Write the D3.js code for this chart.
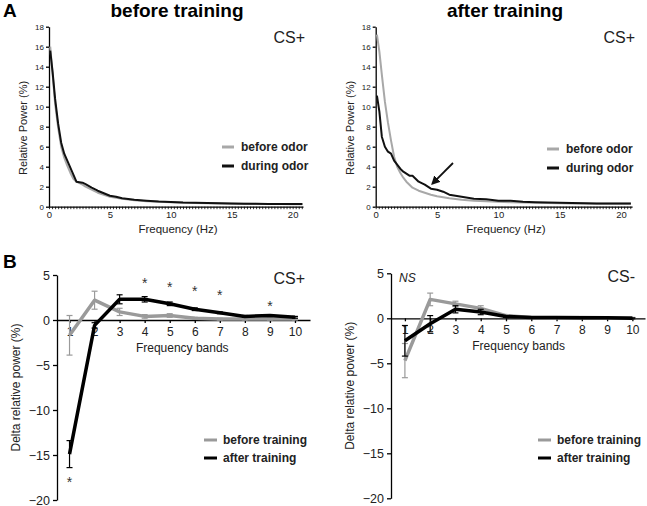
<!DOCTYPE html>
<html>
<head>
<meta charset="utf-8">
<script src="https://cdn.jsdelivr.net/npm/d3@7"></script>
<style>
  body { margin: 0; background: #fff; }
  svg { display: block; font-family: Arial, "Liberation Sans", Helvetica, sans-serif; }
  .axis path, .axis line { stroke: #000; stroke-width: 1.3; }
  .axis text { fill: #222; }
</style>
</head>
<body>
<svg width="647" height="506"></svg>
<script>
// ---- data: panel A (power spectra) ----
const freqA = [0.1, 0.3, 0.5, 0.75, 1, 1.25, 1.5, 1.75, 2, 2.25, 2.5, 2.75, 3, 3.5, 4, 4.5, 5, 5.5, 6, 7, 8, 9, 10, 11, 12, 13, 14, 15, 16, 17, 18, 19, 20, 20.8]
const beforeTrainBeforeOdor = [16.0, 13.2, 10.3, 7.9, 6.0, 4.9, 4.1, 3.4, 2.8, 2.5, 2.35, 2.2, 2.0, 1.7, 1.4, 1.2, 1.0, 0.9, 0.8, 0.65, 0.55, 0.5, 0.45, 0.4, 0.38, 0.35, 0.33, 0.3, 0.3, 0.28, 0.27, 0.26, 0.25, 0.25]
const beforeTrainDuringOdor = [15.6, 13.4, 10.8, 8.3, 6.4, 5.3, 4.6, 3.9, 3.2, 2.5, 2.45, 2.4, 2.25, 1.9, 1.6, 1.35, 1.1, 1.0, 0.85, 0.7, 0.6, 0.52, 0.47, 0.42, 0.4, 0.37, 0.35, 0.32, 0.3, 0.3, 0.28, 0.27, 0.26, 0.26]
const afterTrainBeforeOdor = [17.2, 15.5, 13.2, 10.5, 8.4, 6.6, 5.0, 4.0, 3.4, 2.9, 2.5, 2.2, 1.9, 1.6, 1.4, 1.2, 1.05, 0.95, 0.85, 0.7, 0.6, 0.55, 0.5, 0.45, 0.42, 0.4, 0.38, 0.35, 0.33, 0.32, 0.3, 0.3, 0.3, 0.3]
const afterTrainDuringOdor = [11.1, 9.5, 7.0, 6.0, 5.5, 5.3, 4.6, 4.2, 3.8, 3.5, 3.3, 3.1, 3.1, 2.5, 2.2, 1.8, 1.7, 1.5, 1.2, 1.0, 0.8, 0.75, 0.6, 0.6, 0.5, 0.45, 0.42, 0.4, 0.38, 0.35, 0.33, 0.32, 0.32, 0.32]
const ticksAy = [0, 2, 4, 6, 8, 10, 12, 14, 16, 18]
const ticksAx = [0, 5, 10, 15, 20]

// ---- data: panel B (delta relative power per band) ----
const bands = [1, 2, 3, 4, 5, 6, 7, 8, 9, 10]
const csPlusBefore = [-1.7, 2.2, 0.9, 0.4, 0.5, 0.2, 0.1, 0.1, 0.1, 0.1]
const csPlusBeforeErr = [2.2, 1.0, 0.4, 0.2, 0.2, 0.1, 0.1, 0.1, 0.1, 0.1]
const csPlusAfter = [-14.9, -0.6, 2.3, 2.3, 1.8, 1.2, 0.8, 0.4, 0.5, 0.3]
const csPlusAfterErr = [1.5, 0.3, 0.5, 0.3, 0.2, 0.15, 0.1, 0.1, 0.1, 0.1]
const csMinusBefore = [-4.7, 2.1, 1.6, 1.1, 0.3, 0.1, 0.05, 0.1, 0.05, 0.05]
const csMinusBeforeErr = [1.9, 0.7, 0.3, 0.3, 0.1, 0.05, 0.05, 0.05, 0.05, 0.05]
const csMinusAfter = [-2.5, -0.6, 1.0, 0.7, 0.2, 0.1, 0.1, 0.05, 0.05, 0.0]
const csMinusAfterErr = [1.7, 0.9, 0.4, 0.3, 0.1, 0.05, 0.05, 0.05, 0.05, 0.05]
const starBands = [1, 4, 5, 6, 7, 9]
const starValues = [-17.9, 4.2, 3.8, 3.3, 2.9, 1.7]
const ticksBy = [5, 0, -5, -10, -15, -20]

const svg = d3.select('svg')
const grayA = '#a8a8a8'
const grayB = '#9a9a9a'

function spectrumPanel (opt) {
  const x = d3.scaleLinear().domain(opt.xDomain).range(opt.xRange)
  const y = d3.scaleLinear().domain([0, 18]).range([206.7, 26.7])
  const g = svg.append('g')

  // y axis
  g.append('g').attr('class', 'axis')
    .attr('transform', 'translate(' + opt.xRange[0] + ',0)')
    .call(d3.axisLeft(y).tickValues(ticksAy).tickSize(3).tickSizeOuter(0).tickPadding(2))
    .call(a => a.selectAll('text').style('font-size', '8px'))
  // x axis: minor ticks every 0.25 Hz
  const minor = d3.range(0, opt.xDomain[1], 0.25)
  g.append('g').attr('class', 'axis')
    .attr('transform', 'translate(0,' + y(0) + ')')
    .call(d3.axisBottom(x).tickValues(minor).tickSize(2.5).tickSizeOuter(0).tickFormat(''))
    .call(a => a.selectAll('line').style('stroke-width', 0.8))
  g.append('g').attr('class', 'axis')
    .attr('transform', 'translate(0,' + y(0) + ')')
    .call(d3.axisBottom(x).tickValues(ticksAx).tickSize(0).tickPadding(5))
    .call(a => a.select('.domain').remove())
    .call(a => a.selectAll('text').style('font-size', '9.5px'))

  const line = d3.line().x((d, i) => x(freqA[i])).y(d => y(d))
  g.append('path').datum(opt.before).attr('d', line)
    .attr('fill', 'none').attr('stroke', grayA).attr('stroke-width', 2).attr('stroke-linejoin', 'round')
  g.append('path').datum(opt.during).attr('d', line)
    .attr('fill', 'none').attr('stroke', '#111').attr('stroke-width', 2).attr('stroke-linejoin', 'round')

  // labels
  g.append('text').attr('x', (opt.xRange[0] + opt.xRange[1]) / 2 + 2).attr('y', 233)
    .attr('text-anchor', 'middle').style('font-size', '11.5px').attr('fill', '#222').text('Frequency (Hz)')
  g.append('text').attr('transform', 'translate(' + (opt.xRange[0] - 22) + ',128) rotate(-90)')
    .attr('text-anchor', 'middle').style('font-size', '11px').attr('fill', '#222').text('Relative Power (%)')
  g.append('text').attr('x', opt.titleX).attr('y', 17).attr('text-anchor', 'middle')
    .style('font-size', '19px').style('font-weight', 'bold').text(opt.title)
  g.append('text').attr('x', opt.csX).attr('y', 43).attr('text-anchor', 'end')
    .style('font-size', '16px').attr('fill', '#222').text('CS+')

  // legend
  const legend = [['before odor', grayA], ['during odor', '#111']]
  legend.forEach((l, i) => {
    const ly = opt.legY + i * 19
    g.append('line').attr('x1', opt.legX).attr('x2', opt.legX + 12).attr('y1', ly).attr('y2', ly)
      .attr('stroke', l[1]).attr('stroke-width', 3)
    g.append('text').attr('x', opt.legX + 19).attr('y', ly + 4)
      .style('font-size', '12px').style('font-weight', 'bold').attr('fill', '#222').text(l[0])
  })
  return { x, y, g }
}

spectrumPanel({
  xDomain: [0, 20.85], xRange: [49, 303],
  before: beforeTrainBeforeOdor, during: beforeTrainDuringOdor,
  title: 'before training', titleX: 177, csX: 305, legX: 222, legY: 147
})
const right = spectrumPanel({
  xDomain: [0, 20.9], xRange: [375.7, 632.1],
  before: afterTrainBeforeOdor, during: afterTrainDuringOdor,
  title: 'after training', titleX: 505, csX: 635, legX: 547, legY: 149
})

// arrow on the after-training spectrum
svg.append('defs').append('marker').attr('id', 'arrow')
  .attr('viewBox', '0 0 10 10').attr('refX', 8).attr('refY', 5)
  .attr('markerWidth', 5).attr('markerHeight', 5).attr('orient', 'auto')
  .append('path').attr('d', 'M0,0 L10,5 L0,10 Z').attr('fill', '#111')
right.g.append('line')
  .attr('x1', right.x(6.3)).attr('y1', right.y(4.37))
  .attr('x2', right.x(4.62)).attr('y2', right.y(2.3))
  .attr('stroke', '#111').attr('stroke-width', 1.8).attr('marker-end', 'url(#arrow)')

function bandPanel (opt) {
  const x = d3.scaleLinear().domain(opt.xDomain).range(opt.xRange)
  const y = d3.scaleLinear().domain([-20, 5]).range(opt.yRange)
  const g = svg.append('g')

  g.append('g').attr('class', 'axis')
    .attr('transform', 'translate(' + opt.xRange[0] + ',0)')
    .call(d3.axisLeft(y).tickValues(ticksBy).tickSize(4).tickSizeOuter(0).tickPadding(3))
    .call(a => a.selectAll('text').style('font-size', '12.5px'))
  g.append('g').attr('class', 'axis')
    .attr('transform', 'translate(0,' + y(0) + ')')
    .call(d3.axisBottom(x).tickValues(bands).tickSize(3).tickSizeOuter(0).tickPadding(4))
    .call(a => a.selectAll('text').style('font-size', '12px'))

  const line = d3.line().x((d, i) => x(bands[i])).y(d => y(d))
  function series (vals, errs, color) {
    const eb = g.append('g').attr('stroke', color).attr('stroke-width', 1.2)
    vals.forEach((v, i) => {
      const cx = x(bands[i])
      eb.append('line').attr('x1', cx).attr('x2', cx).attr('y1', y(v - errs[i])).attr('y2', y(v + errs[i]))
      eb.append('line').attr('x1', cx - 3).attr('x2', cx + 3).attr('y1', y(v - errs[i])).attr('y2', y(v - errs[i]))
      eb.append('line').attr('x1', cx - 3).attr('x2', cx + 3).attr('y1', y(v + errs[i])).attr('y2', y(v + errs[i]))
    })
    g.append('path').datum(vals).attr('d', line)
      .attr('fill', 'none').attr('stroke', color).attr('stroke-width', 3.5).attr('stroke-linejoin', 'round')
  }
  series(opt.before, opt.beforeErr, grayB)
  series(opt.after, opt.afterErr, '#000')

  g.append('text').attr('x', x(5.5)).attr('y', y(0) + 32).attr('text-anchor', 'middle')
    .style('font-size', '12px').attr('fill', '#222').text('Frequency bands')
  g.append('text').attr('transform', 'translate(' + (opt.xRange[0] - 37) + ',' + y(-7.5) + ') rotate(-90)')
    .attr('text-anchor', 'middle').style('font-size', '12px').attr('fill', '#222').text('Delta relative power (%)')
  g.append('text').attr('x', opt.csX).attr('y', y(5) + 9).attr('text-anchor', 'end')
    .style('font-size', '16px').attr('fill', '#222').text(opt.cs)

  const legend = [['before training', grayB], ['after training', '#000']]
  legend.forEach((l, i) => {
    const ly = 440 + i * 18
    g.append('line').attr('x1', opt.legX).attr('x2', opt.legX + 13).attr('y1', ly).attr('y2', ly)
      .attr('stroke', l[1]).attr('stroke-width', 3)
    g.append('text').attr('x', opt.legX + 19).attr('y', ly + 4)
      .style('font-size', '12px').style('font-weight', 'bold').attr('fill', '#222').text(l[0])
  })
  return { x, y, g }
}

const bLeft = bandPanel({
  xDomain: [0.5, 10.6], xRange: [57, 310], yRange: [500, 275],
  before: csPlusBefore, beforeErr: csPlusBeforeErr, after: csPlusAfter, afterErr: csPlusAfterErr,
  cs: 'CS+', csX: 305, legX: 204
})
bLeft.g.selectAll('.star').data(starBands).enter().append('text')
  .attr('class', 'star').attr('x', d => bLeft.x(d)).attr('y', (d, i) => bLeft.y(starValues[i]) + 6)
  .attr('text-anchor', 'middle').style('font-size', '14px').attr('fill', '#333').text('*')

const bRight = bandPanel({
  xDomain: [0.45, 10.5], xRange: [391, 645], yRange: [498.3, 273.3],
  before: csMinusBefore, beforeErr: csMinusBeforeErr, after: csMinusAfter, afterErr: csMinusAfterErr,
  cs: 'CS-', csX: 635, legX: 538
})
bRight.g.append('text').attr('x', 399).attr('y', bRight.y(5) + 9)
  .style('font-size', '12px').style('font-style', 'italic').attr('fill', '#222').text('NS')

// panel letters
svg.append('text').attr('x', 3).attr('y', 17).style('font-size', '19px').style('font-weight', 'bold').text('A')
svg.append('text').attr('x', 3).attr('y', 268).style('font-size', '19px').style('font-weight', 'bold').text('B')
</script>
</body>
</html>
